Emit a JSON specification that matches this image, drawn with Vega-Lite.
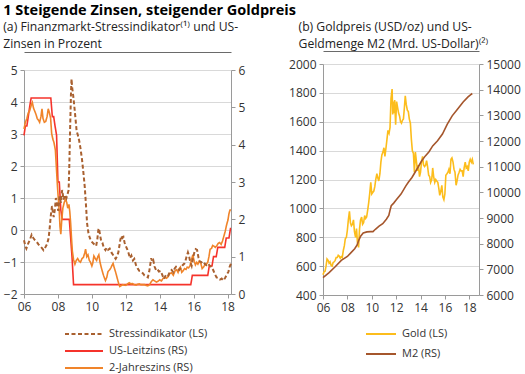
{
  "$schema": "https://vega.github.io/schema/vega-lite/v6.json",
  "background": "white",
  "padding": {"left": 3, "top": 3, "right": 0, "bottom": 0},
  "config": {
    "font": "Open Sans",
    "view": {"stroke": null},
    "axis": {"domainColor": "#9a9a9a", "tickColor": "#9a9a9a", "gridColor": "#d9d9d9", "labelColor": "#333333", "labelFontSize": 12, "tickSize": 4, "labelPadding": 3, "title": null, "labelOverlap": false},
    "legend": {"padding": 0, "labelFontSize": 11, "labelColor": "#333333", "symbolType": "stroke", "symbolStrokeWidth": 2, "clipHeight": 14, "labelOffset": 5}
  },
  "title": {"text": "1 Steigende Zinsen, steigender Goldpreis", "anchor": "start", "fontSize": 14.5, "fontWeight": "bold", "color": "#000000", "offset": 2},
  "resolve": {"scale": {"color": "independent", "strokeDash": "independent"}},
  "datasets": {
    "stress": [
      {"t": 2006.0, "v": -0.32}, {"t": 2006.08, "v": -0.5}, {"t": 2006.14, "v": -0.58}, {"t": 2006.25, "v": -0.42}, {"t": 2006.35, "v": -0.3}, {"t": 2006.45, "v": -0.15}, {"t": 2006.55, "v": -0.25}, {"t": 2006.65, "v": -0.32}, {"t": 2006.75, "v": -0.37}, {"t": 2006.85, "v": -0.45}, {"t": 2006.95, "v": -0.5}, {"t": 2007.05, "v": -0.56}, {"t": 2007.15, "v": -0.63}, {"t": 2007.25, "v": -0.55}, {"t": 2007.35, "v": -0.45}, {"t": 2007.45, "v": -0.26}, {"t": 2007.52, "v": 0.1}, {"t": 2007.58, "v": 0.45}, {"t": 2007.65, "v": 0.75}, {"t": 2007.7, "v": 0.55}, {"t": 2007.75, "v": 0.4}, {"t": 2007.82, "v": 0.65}, {"t": 2007.88, "v": 1.0}, {"t": 2007.95, "v": 0.8}, {"t": 2008.02, "v": 0.6}, {"t": 2008.1, "v": 1.05}, {"t": 2008.17, "v": 0.85}, {"t": 2008.25, "v": 1.25}, {"t": 2008.33, "v": 0.95}, {"t": 2008.42, "v": 1.1}, {"t": 2008.5, "v": 1.0}, {"t": 2008.58, "v": 1.15}, {"t": 2008.63, "v": 1.25}, {"t": 2008.67, "v": 2.0}, {"t": 2008.72, "v": 3.2}, {"t": 2008.77, "v": 4.3}, {"t": 2008.8, "v": 4.72}, {"t": 2008.84, "v": 4.45}, {"t": 2008.9, "v": 4.2}, {"t": 2008.96, "v": 3.9}, {"t": 2009.04, "v": 3.45}, {"t": 2009.1, "v": 3.1}, {"t": 2009.18, "v": 2.95}, {"t": 2009.25, "v": 2.8}, {"t": 2009.33, "v": 2.55}, {"t": 2009.42, "v": 2.2}, {"t": 2009.5, "v": 1.8}, {"t": 2009.58, "v": 1.35}, {"t": 2009.65, "v": 0.8}, {"t": 2009.72, "v": 0.2}, {"t": 2009.8, "v": -0.1}, {"t": 2009.88, "v": -0.25}, {"t": 2009.96, "v": -0.35}, {"t": 2010.05, "v": -0.4}, {"t": 2010.15, "v": -0.45}, {"t": 2010.25, "v": -0.5}, {"t": 2010.32, "v": -0.3}, {"t": 2010.38, "v": 0.0}, {"t": 2010.42, "v": 0.05}, {"t": 2010.48, "v": -0.15}, {"t": 2010.55, "v": -0.35}, {"t": 2010.62, "v": -0.4}, {"t": 2010.7, "v": -0.55}, {"t": 2010.8, "v": -0.63}, {"t": 2010.88, "v": -0.55}, {"t": 2010.96, "v": -0.62}, {"t": 2011.05, "v": -0.58}, {"t": 2011.15, "v": -0.7}, {"t": 2011.25, "v": -0.78}, {"t": 2011.33, "v": -0.85}, {"t": 2011.4, "v": -0.9}, {"t": 2011.48, "v": -0.82}, {"t": 2011.56, "v": -0.7}, {"t": 2011.62, "v": -0.5}, {"t": 2011.68, "v": -0.3}, {"t": 2011.74, "v": -0.18}, {"t": 2011.8, "v": -0.25}, {"t": 2011.86, "v": -0.22}, {"t": 2011.93, "v": -0.4}, {"t": 2012.0, "v": -0.5}, {"t": 2012.08, "v": -0.6}, {"t": 2012.16, "v": -0.72}, {"t": 2012.25, "v": -0.88}, {"t": 2012.33, "v": -0.8}, {"t": 2012.42, "v": -0.95}, {"t": 2012.5, "v": -0.9}, {"t": 2012.6, "v": -1.1}, {"t": 2012.7, "v": -1.2}, {"t": 2012.8, "v": -1.28}, {"t": 2012.9, "v": -1.3}, {"t": 2013.0, "v": -1.35}, {"t": 2013.1, "v": -1.42}, {"t": 2013.2, "v": -1.45}, {"t": 2013.3, "v": -1.48}, {"t": 2013.38, "v": -1.3}, {"t": 2013.45, "v": -1.05}, {"t": 2013.5, "v": -0.88}, {"t": 2013.56, "v": -1.0}, {"t": 2013.62, "v": -0.95}, {"t": 2013.7, "v": -1.15}, {"t": 2013.78, "v": -1.25}, {"t": 2013.86, "v": -1.22}, {"t": 2013.95, "v": -1.3}, {"t": 2014.05, "v": -1.28}, {"t": 2014.15, "v": -1.4}, {"t": 2014.24, "v": -1.53}, {"t": 2014.32, "v": -1.45}, {"t": 2014.4, "v": -1.38}, {"t": 2014.5, "v": -1.42}, {"t": 2014.6, "v": -1.3}, {"t": 2014.7, "v": -1.25}, {"t": 2014.8, "v": -1.32}, {"t": 2014.88, "v": -1.2}, {"t": 2014.96, "v": -1.15}, {"t": 2015.05, "v": -1.2}, {"t": 2015.15, "v": -1.25}, {"t": 2015.25, "v": -1.18}, {"t": 2015.35, "v": -1.1}, {"t": 2015.45, "v": -1.05}, {"t": 2015.52, "v": -0.95}, {"t": 2015.6, "v": -0.8}, {"t": 2015.66, "v": -0.7}, {"t": 2015.72, "v": -0.8}, {"t": 2015.8, "v": -1.0}, {"t": 2015.88, "v": -1.12}, {"t": 2015.95, "v": -0.9}, {"t": 2016.05, "v": -0.68}, {"t": 2016.12, "v": -0.6}, {"t": 2016.2, "v": -0.62}, {"t": 2016.28, "v": -0.85}, {"t": 2016.36, "v": -0.98}, {"t": 2016.45, "v": -1.0}, {"t": 2016.55, "v": -1.08}, {"t": 2016.65, "v": -1.05}, {"t": 2016.75, "v": -1.1}, {"t": 2016.85, "v": -1.05}, {"t": 2016.95, "v": -1.12}, {"t": 2017.05, "v": -1.15}, {"t": 2017.15, "v": -1.25}, {"t": 2017.25, "v": -1.38}, {"t": 2017.35, "v": -1.48}, {"t": 2017.45, "v": -1.5}, {"t": 2017.55, "v": -1.55}, {"t": 2017.65, "v": -1.52}, {"t": 2017.75, "v": -1.58}, {"t": 2017.85, "v": -1.5}, {"t": 2017.95, "v": -1.4}, {"t": 2018.05, "v": -1.3}, {"t": 2018.12, "v": -1.15}, {"t": 2018.2, "v": -1.05}
    ],
    "rates": [
      {"s": "US-Leitzins (RS)", "t": 2006.0, "v": 4.25}, {"s": "US-Leitzins (RS)", "t": 2006.08, "v": 4.5}, {"s": "US-Leitzins (RS)", "t": 2006.17, "v": 4.5}, {"s": "US-Leitzins (RS)", "t": 2006.25, "v": 4.75}, {"s": "US-Leitzins (RS)", "t": 2006.33, "v": 5.0}, {"s": "US-Leitzins (RS)", "t": 2006.42, "v": 5.25}, {"s": "US-Leitzins (RS)", "t": 2007.58, "v": 5.25}, {"s": "US-Leitzins (RS)", "t": 2007.67, "v": 4.75}, {"s": "US-Leitzins (RS)", "t": 2007.75, "v": 4.75}, {"s": "US-Leitzins (RS)", "t": 2007.83, "v": 4.5}, {"s": "US-Leitzins (RS)", "t": 2007.92, "v": 4.25}, {"s": "US-Leitzins (RS)", "t": 2008.0, "v": 3.0}, {"s": "US-Leitzins (RS)", "t": 2008.08, "v": 3.0}, {"s": "US-Leitzins (RS)", "t": 2008.17, "v": 2.25}, {"s": "US-Leitzins (RS)", "t": 2008.25, "v": 2.0}, {"s": "US-Leitzins (RS)", "t": 2008.67, "v": 2.0}, {"s": "US-Leitzins (RS)", "t": 2008.75, "v": 1.5}, {"s": "US-Leitzins (RS)", "t": 2008.83, "v": 1.0}, {"s": "US-Leitzins (RS)", "t": 2008.92, "v": 0.25}, {"s": "US-Leitzins (RS)", "t": 2015.83, "v": 0.25}, {"s": "US-Leitzins (RS)", "t": 2015.92, "v": 0.5}, {"s": "US-Leitzins (RS)", "t": 2016.83, "v": 0.5}, {"s": "US-Leitzins (RS)", "t": 2016.92, "v": 0.75}, {"s": "US-Leitzins (RS)", "t": 2017.08, "v": 0.75}, {"s": "US-Leitzins (RS)", "t": 2017.17, "v": 1.0}, {"s": "US-Leitzins (RS)", "t": 2017.33, "v": 1.0}, {"s": "US-Leitzins (RS)", "t": 2017.42, "v": 1.25}, {"s": "US-Leitzins (RS)", "t": 2017.83, "v": 1.25}, {"s": "US-Leitzins (RS)", "t": 2017.92, "v": 1.5}, {"s": "US-Leitzins (RS)", "t": 2018.08, "v": 1.5}, {"s": "US-Leitzins (RS)", "t": 2018.17, "v": 1.75}, {"s": "US-Leitzins (RS)", "t": 2018.2, "v": 1.75},
      {"s": "2-Jahreszins (RS)", "t": 2006.0, "v": 4.42}, {"s": "2-Jahreszins (RS)", "t": 2006.08, "v": 4.6}, {"s": "2-Jahreszins (RS)", "t": 2006.17, "v": 4.7}, {"s": "2-Jahreszins (RS)", "t": 2006.25, "v": 4.85}, {"s": "2-Jahreszins (RS)", "t": 2006.33, "v": 4.9}, {"s": "2-Jahreszins (RS)", "t": 2006.42, "v": 5.05}, {"s": "2-Jahreszins (RS)", "t": 2006.49, "v": 5.13}, {"s": "2-Jahreszins (RS)", "t": 2006.56, "v": 4.98}, {"s": "2-Jahreszins (RS)", "t": 2006.63, "v": 4.9}, {"s": "2-Jahreszins (RS)", "t": 2006.7, "v": 4.82}, {"s": "2-Jahreszins (RS)", "t": 2006.78, "v": 4.7}, {"s": "2-Jahreszins (RS)", "t": 2006.86, "v": 4.65}, {"s": "2-Jahreszins (RS)", "t": 2006.92, "v": 4.6}, {"s": "2-Jahreszins (RS)", "t": 2007.0, "v": 4.75}, {"s": "2-Jahreszins (RS)", "t": 2007.06, "v": 4.96}, {"s": "2-Jahreszins (RS)", "t": 2007.12, "v": 4.7}, {"s": "2-Jahreszins (RS)", "t": 2007.2, "v": 4.6}, {"s": "2-Jahreszins (RS)", "t": 2007.28, "v": 4.62}, {"s": "2-Jahreszins (RS)", "t": 2007.36, "v": 4.75}, {"s": "2-Jahreszins (RS)", "t": 2007.43, "v": 4.96}, {"s": "2-Jahreszins (RS)", "t": 2007.5, "v": 4.85}, {"s": "2-Jahreszins (RS)", "t": 2007.57, "v": 4.7}, {"s": "2-Jahreszins (RS)", "t": 2007.63, "v": 4.3}, {"s": "2-Jahreszins (RS)", "t": 2007.7, "v": 4.15}, {"s": "2-Jahreszins (RS)", "t": 2007.77, "v": 4.05}, {"s": "2-Jahreszins (RS)", "t": 2007.85, "v": 3.85}, {"s": "2-Jahreszins (RS)", "t": 2007.92, "v": 3.3}, {"s": "2-Jahreszins (RS)", "t": 2007.97, "v": 2.9}, {"s": "2-Jahreszins (RS)", "t": 2008.03, "v": 2.5}, {"s": "2-Jahreszins (RS)", "t": 2008.08, "v": 2.2}, {"s": "2-Jahreszins (RS)", "t": 2008.12, "v": 1.8}, {"s": "2-Jahreszins (RS)", "t": 2008.17, "v": 1.6}, {"s": "2-Jahreszins (RS)", "t": 2008.22, "v": 1.95}, {"s": "2-Jahreszins (RS)", "t": 2008.29, "v": 2.3}, {"s": "2-Jahreszins (RS)", "t": 2008.37, "v": 2.45}, {"s": "2-Jahreszins (RS)", "t": 2008.45, "v": 2.55}, {"s": "2-Jahreszins (RS)", "t": 2008.52, "v": 2.45}, {"s": "2-Jahreszins (RS)", "t": 2008.58, "v": 2.3}, {"s": "2-Jahreszins (RS)", "t": 2008.65, "v": 2.4}, {"s": "2-Jahreszins (RS)", "t": 2008.7, "v": 2.2}, {"s": "2-Jahreszins (RS)", "t": 2008.75, "v": 1.9}, {"s": "2-Jahreszins (RS)", "t": 2008.8, "v": 1.5}, {"s": "2-Jahreszins (RS)", "t": 2008.85, "v": 1.15}, {"s": "2-Jahreszins (RS)", "t": 2008.92, "v": 0.92}, {"s": "2-Jahreszins (RS)", "t": 2009.0, "v": 0.8}, {"s": "2-Jahreszins (RS)", "t": 2009.08, "v": 0.9}, {"s": "2-Jahreszins (RS)", "t": 2009.16, "v": 0.95}, {"s": "2-Jahreszins (RS)", "t": 2009.25, "v": 0.88}, {"s": "2-Jahreszins (RS)", "t": 2009.33, "v": 0.85}, {"s": "2-Jahreszins (RS)", "t": 2009.42, "v": 0.95}, {"s": "2-Jahreszins (RS)", "t": 2009.5, "v": 0.98}, {"s": "2-Jahreszins (RS)", "t": 2009.58, "v": 1.1}, {"s": "2-Jahreszins (RS)", "t": 2009.63, "v": 1.2}, {"s": "2-Jahreszins (RS)", "t": 2009.7, "v": 1.0}, {"s": "2-Jahreszins (RS)", "t": 2009.77, "v": 1.05}, {"s": "2-Jahreszins (RS)", "t": 2009.85, "v": 0.9}, {"s": "2-Jahreszins (RS)", "t": 2009.92, "v": 0.85}, {"s": "2-Jahreszins (RS)", "t": 2010.0, "v": 0.75}, {"s": "2-Jahreszins (RS)", "t": 2010.05, "v": 0.82}, {"s": "2-Jahreszins (RS)", "t": 2010.12, "v": 1.02}, {"s": "2-Jahreszins (RS)", "t": 2010.2, "v": 0.95}, {"s": "2-Jahreszins (RS)", "t": 2010.28, "v": 0.9}, {"s": "2-Jahreszins (RS)", "t": 2010.35, "v": 1.0}, {"s": "2-Jahreszins (RS)", "t": 2010.41, "v": 1.05}, {"s": "2-Jahreszins (RS)", "t": 2010.48, "v": 0.85}, {"s": "2-Jahreszins (RS)", "t": 2010.55, "v": 0.72}, {"s": "2-Jahreszins (RS)", "t": 2010.62, "v": 0.6}, {"s": "2-Jahreszins (RS)", "t": 2010.7, "v": 0.48}, {"s": "2-Jahreszins (RS)", "t": 2010.8, "v": 0.36}, {"s": "2-Jahreszins (RS)", "t": 2010.88, "v": 0.45}, {"s": "2-Jahreszins (RS)", "t": 2010.95, "v": 0.6}, {"s": "2-Jahreszins (RS)", "t": 2011.05, "v": 0.65}, {"s": "2-Jahreszins (RS)", "t": 2011.12, "v": 0.7}, {"s": "2-Jahreszins (RS)", "t": 2011.2, "v": 0.78}, {"s": "2-Jahreszins (RS)", "t": 2011.25, "v": 0.82}, {"s": "2-Jahreszins (RS)", "t": 2011.32, "v": 0.7}, {"s": "2-Jahreszins (RS)", "t": 2011.39, "v": 0.6}, {"s": "2-Jahreszins (RS)", "t": 2011.45, "v": 0.5}, {"s": "2-Jahreszins (RS)", "t": 2011.52, "v": 0.38}, {"s": "2-Jahreszins (RS)", "t": 2011.58, "v": 0.28}, {"s": "2-Jahreszins (RS)", "t": 2011.65, "v": 0.2}, {"s": "2-Jahreszins (RS)", "t": 2011.72, "v": 0.22}, {"s": "2-Jahreszins (RS)", "t": 2011.8, "v": 0.25}, {"s": "2-Jahreszins (RS)", "t": 2011.9, "v": 0.24}, {"s": "2-Jahreszins (RS)", "t": 2012.0, "v": 0.23}, {"s": "2-Jahreszins (RS)", "t": 2012.1, "v": 0.27}, {"s": "2-Jahreszins (RS)", "t": 2012.2, "v": 0.3}, {"s": "2-Jahreszins (RS)", "t": 2012.3, "v": 0.27}, {"s": "2-Jahreszins (RS)", "t": 2012.4, "v": 0.28}, {"s": "2-Jahreszins (RS)", "t": 2012.5, "v": 0.25}, {"s": "2-Jahreszins (RS)", "t": 2012.6, "v": 0.24}, {"s": "2-Jahreszins (RS)", "t": 2012.7, "v": 0.26}, {"s": "2-Jahreszins (RS)", "t": 2012.8, "v": 0.27}, {"s": "2-Jahreszins (RS)", "t": 2012.9, "v": 0.25}, {"s": "2-Jahreszins (RS)", "t": 2013.0, "v": 0.25}, {"s": "2-Jahreszins (RS)", "t": 2013.1, "v": 0.25}, {"s": "2-Jahreszins (RS)", "t": 2013.2, "v": 0.23}, {"s": "2-Jahreszins (RS)", "t": 2013.3, "v": 0.22}, {"s": "2-Jahreszins (RS)", "t": 2013.4, "v": 0.25}, {"s": "2-Jahreszins (RS)", "t": 2013.5, "v": 0.33}, {"s": "2-Jahreszins (RS)", "t": 2013.6, "v": 0.38}, {"s": "2-Jahreszins (RS)", "t": 2013.7, "v": 0.35}, {"s": "2-Jahreszins (RS)", "t": 2013.8, "v": 0.32}, {"s": "2-Jahreszins (RS)", "t": 2013.9, "v": 0.34}, {"s": "2-Jahreszins (RS)", "t": 2014.0, "v": 0.38}, {"s": "2-Jahreszins (RS)", "t": 2014.1, "v": 0.35}, {"s": "2-Jahreszins (RS)", "t": 2014.2, "v": 0.42}, {"s": "2-Jahreszins (RS)", "t": 2014.3, "v": 0.44}, {"s": "2-Jahreszins (RS)", "t": 2014.4, "v": 0.42}, {"s": "2-Jahreszins (RS)", "t": 2014.5, "v": 0.47}, {"s": "2-Jahreszins (RS)", "t": 2014.6, "v": 0.55}, {"s": "2-Jahreszins (RS)", "t": 2014.7, "v": 0.57}, {"s": "2-Jahreszins (RS)", "t": 2014.8, "v": 0.5}, {"s": "2-Jahreszins (RS)", "t": 2014.9, "v": 0.62}, {"s": "2-Jahreszins (RS)", "t": 2015.0, "v": 0.65}, {"s": "2-Jahreszins (RS)", "t": 2015.08, "v": 0.58}, {"s": "2-Jahreszins (RS)", "t": 2015.15, "v": 0.68}, {"s": "2-Jahreszins (RS)", "t": 2015.22, "v": 0.72}, {"s": "2-Jahreszins (RS)", "t": 2015.3, "v": 0.58}, {"s": "2-Jahreszins (RS)", "t": 2015.38, "v": 0.62}, {"s": "2-Jahreszins (RS)", "t": 2015.46, "v": 0.68}, {"s": "2-Jahreszins (RS)", "t": 2015.55, "v": 0.66}, {"s": "2-Jahreszins (RS)", "t": 2015.62, "v": 0.72}, {"s": "2-Jahreszins (RS)", "t": 2015.7, "v": 0.7}, {"s": "2-Jahreszins (RS)", "t": 2015.78, "v": 0.75}, {"s": "2-Jahreszins (RS)", "t": 2015.86, "v": 0.9}, {"s": "2-Jahreszins (RS)", "t": 2015.95, "v": 1.05}, {"s": "2-Jahreszins (RS)", "t": 2016.03, "v": 0.88}, {"s": "2-Jahreszins (RS)", "t": 2016.1, "v": 0.78}, {"s": "2-Jahreszins (RS)", "t": 2016.18, "v": 0.85}, {"s": "2-Jahreszins (RS)", "t": 2016.25, "v": 0.8}, {"s": "2-Jahreszins (RS)", "t": 2016.33, "v": 0.88}, {"s": "2-Jahreszins (RS)", "t": 2016.42, "v": 0.82}, {"s": "2-Jahreszins (RS)", "t": 2016.5, "v": 0.68}, {"s": "2-Jahreszins (RS)", "t": 2016.58, "v": 0.72}, {"s": "2-Jahreszins (RS)", "t": 2016.66, "v": 0.78}, {"s": "2-Jahreszins (RS)", "t": 2016.75, "v": 0.8}, {"s": "2-Jahreszins (RS)", "t": 2016.83, "v": 0.85}, {"s": "2-Jahreszins (RS)", "t": 2016.9, "v": 1.0}, {"s": "2-Jahreszins (RS)", "t": 2016.97, "v": 1.2}, {"s": "2-Jahreszins (RS)", "t": 2017.05, "v": 1.22}, {"s": "2-Jahreszins (RS)", "t": 2017.12, "v": 1.3}, {"s": "2-Jahreszins (RS)", "t": 2017.2, "v": 1.28}, {"s": "2-Jahreszins (RS)", "t": 2017.28, "v": 1.25}, {"s": "2-Jahreszins (RS)", "t": 2017.37, "v": 1.3}, {"s": "2-Jahreszins (RS)", "t": 2017.45, "v": 1.36}, {"s": "2-Jahreszins (RS)", "t": 2017.53, "v": 1.38}, {"s": "2-Jahreszins (RS)", "t": 2017.62, "v": 1.33}, {"s": "2-Jahreszins (RS)", "t": 2017.7, "v": 1.42}, {"s": "2-Jahreszins (RS)", "t": 2017.78, "v": 1.55}, {"s": "2-Jahreszins (RS)", "t": 2017.86, "v": 1.68}, {"s": "2-Jahreszins (RS)", "t": 2017.94, "v": 1.85}, {"s": "2-Jahreszins (RS)", "t": 2018.02, "v": 1.98}, {"s": "2-Jahreszins (RS)", "t": 2018.08, "v": 2.15}, {"s": "2-Jahreszins (RS)", "t": 2018.14, "v": 2.25}, {"s": "2-Jahreszins (RS)", "t": 2018.2, "v": 2.25}
    ],
    "gold": [
      {"t": 2006.0, "v": 540}, {"t": 2006.08, "v": 560}, {"t": 2006.17, "v": 565}, {"t": 2006.25, "v": 600}, {"t": 2006.33, "v": 650}, {"t": 2006.42, "v": 640}, {"t": 2006.5, "v": 620}, {"t": 2006.58, "v": 630}, {"t": 2006.67, "v": 605}, {"t": 2006.75, "v": 600}, {"t": 2006.83, "v": 625}, {"t": 2006.92, "v": 630}, {"t": 2007.0, "v": 640}, {"t": 2007.08, "v": 660}, {"t": 2007.17, "v": 660}, {"t": 2007.25, "v": 675}, {"t": 2007.33, "v": 670}, {"t": 2007.42, "v": 655}, {"t": 2007.5, "v": 665}, {"t": 2007.58, "v": 660}, {"t": 2007.67, "v": 710}, {"t": 2007.75, "v": 740}, {"t": 2007.83, "v": 790}, {"t": 2007.92, "v": 800}, {"t": 2008.0, "v": 850}, {"t": 2008.08, "v": 920}, {"t": 2008.17, "v": 980}, {"t": 2008.25, "v": 900}, {"t": 2008.33, "v": 880}, {"t": 2008.42, "v": 890}, {"t": 2008.5, "v": 920}, {"t": 2008.58, "v": 840}, {"t": 2008.67, "v": 800}, {"t": 2008.75, "v": 860}, {"t": 2008.83, "v": 760}, {"t": 2008.92, "v": 730}, {"t": 2009.0, "v": 860}, {"t": 2009.08, "v": 920}, {"t": 2009.17, "v": 940}, {"t": 2009.25, "v": 890}, {"t": 2009.33, "v": 900}, {"t": 2009.42, "v": 950}, {"t": 2009.5, "v": 930}, {"t": 2009.58, "v": 940}, {"t": 2009.67, "v": 990}, {"t": 2009.75, "v": 1040}, {"t": 2009.83, "v": 1100}, {"t": 2009.92, "v": 1180}, {"t": 2010.0, "v": 1100}, {"t": 2010.08, "v": 1110}, {"t": 2010.17, "v": 1120}, {"t": 2010.25, "v": 1150}, {"t": 2010.33, "v": 1200}, {"t": 2010.42, "v": 1240}, {"t": 2010.5, "v": 1210}, {"t": 2010.58, "v": 1190}, {"t": 2010.67, "v": 1240}, {"t": 2010.75, "v": 1320}, {"t": 2010.83, "v": 1370}, {"t": 2010.92, "v": 1390}, {"t": 2011.0, "v": 1420}, {"t": 2011.08, "v": 1360}, {"t": 2011.17, "v": 1420}, {"t": 2011.25, "v": 1480}, {"t": 2011.33, "v": 1540}, {"t": 2011.42, "v": 1520}, {"t": 2011.5, "v": 1560}, {"t": 2011.58, "v": 1760}, {"t": 2011.67, "v": 1826}, {"t": 2011.72, "v": 1650}, {"t": 2011.78, "v": 1740}, {"t": 2011.83, "v": 1660}, {"t": 2011.88, "v": 1750}, {"t": 2011.96, "v": 1580}, {"t": 2012.04, "v": 1740}, {"t": 2012.12, "v": 1700}, {"t": 2012.2, "v": 1660}, {"t": 2012.28, "v": 1640}, {"t": 2012.36, "v": 1600}, {"t": 2012.44, "v": 1590}, {"t": 2012.52, "v": 1610}, {"t": 2012.6, "v": 1620}, {"t": 2012.68, "v": 1700}, {"t": 2012.75, "v": 1780}, {"t": 2012.83, "v": 1720}, {"t": 2012.92, "v": 1680}, {"t": 2013.0, "v": 1670}, {"t": 2013.08, "v": 1620}, {"t": 2013.17, "v": 1590}, {"t": 2013.25, "v": 1480}, {"t": 2013.33, "v": 1400}, {"t": 2013.42, "v": 1380}, {"t": 2013.5, "v": 1250}, {"t": 2013.58, "v": 1390}, {"t": 2013.67, "v": 1320}, {"t": 2013.75, "v": 1260}, {"t": 2013.83, "v": 1300}, {"t": 2013.92, "v": 1220}, {"t": 2014.0, "v": 1250}, {"t": 2014.08, "v": 1320}, {"t": 2014.17, "v": 1360}, {"t": 2014.25, "v": 1300}, {"t": 2014.33, "v": 1290}, {"t": 2014.42, "v": 1300}, {"t": 2014.5, "v": 1330}, {"t": 2014.58, "v": 1290}, {"t": 2014.67, "v": 1230}, {"t": 2014.75, "v": 1220}, {"t": 2014.83, "v": 1180}, {"t": 2014.92, "v": 1200}, {"t": 2015.0, "v": 1280}, {"t": 2015.08, "v": 1220}, {"t": 2015.17, "v": 1180}, {"t": 2015.25, "v": 1200}, {"t": 2015.33, "v": 1190}, {"t": 2015.42, "v": 1180}, {"t": 2015.5, "v": 1140}, {"t": 2015.58, "v": 1090}, {"t": 2015.67, "v": 1120}, {"t": 2015.75, "v": 1160}, {"t": 2015.83, "v": 1080}, {"t": 2015.92, "v": 1060}, {"t": 2016.0, "v": 1100}, {"t": 2016.08, "v": 1230}, {"t": 2016.17, "v": 1240}, {"t": 2016.25, "v": 1250}, {"t": 2016.33, "v": 1270}, {"t": 2016.42, "v": 1240}, {"t": 2016.5, "v": 1340}, {"t": 2016.58, "v": 1350}, {"t": 2016.67, "v": 1320}, {"t": 2016.75, "v": 1270}, {"t": 2016.83, "v": 1250}, {"t": 2016.92, "v": 1160}, {"t": 2017.0, "v": 1190}, {"t": 2017.08, "v": 1230}, {"t": 2017.17, "v": 1250}, {"t": 2017.25, "v": 1270}, {"t": 2017.33, "v": 1260}, {"t": 2017.42, "v": 1260}, {"t": 2017.5, "v": 1220}, {"t": 2017.58, "v": 1280}, {"t": 2017.67, "v": 1320}, {"t": 2017.75, "v": 1280}, {"t": 2017.83, "v": 1290}, {"t": 2017.92, "v": 1260}, {"t": 2018.0, "v": 1320}, {"t": 2018.08, "v": 1340}, {"t": 2018.17, "v": 1320}, {"t": 2018.25, "v": 1340}, {"t": 2018.33, "v": 1305}
    ],
    "m2": [
      {"t": 2006.0, "v": 6680}, {"t": 2006.5, "v": 6870}, {"t": 2007.0, "v": 7100}, {"t": 2007.5, "v": 7350}, {"t": 2008.0, "v": 7500}, {"t": 2008.3, "v": 7650}, {"t": 2008.6, "v": 7800}, {"t": 2008.8, "v": 7950}, {"t": 2008.95, "v": 8150}, {"t": 2009.1, "v": 8300}, {"t": 2009.3, "v": 8420}, {"t": 2009.6, "v": 8460}, {"t": 2009.9, "v": 8470}, {"t": 2010.1, "v": 8470}, {"t": 2010.3, "v": 8560}, {"t": 2010.6, "v": 8680}, {"t": 2010.9, "v": 8780}, {"t": 2011.2, "v": 8950}, {"t": 2011.4, "v": 9100}, {"t": 2011.5, "v": 9300}, {"t": 2011.6, "v": 9480}, {"t": 2011.8, "v": 9580}, {"t": 2012.0, "v": 9700}, {"t": 2012.4, "v": 9930}, {"t": 2012.8, "v": 10250}, {"t": 2013.0, "v": 10390}, {"t": 2013.3, "v": 10580}, {"t": 2013.7, "v": 10900}, {"t": 2014.1, "v": 11230}, {"t": 2014.4, "v": 11420}, {"t": 2014.7, "v": 11580}, {"t": 2015.0, "v": 11810}, {"t": 2015.4, "v": 12010}, {"t": 2015.8, "v": 12270}, {"t": 2016.2, "v": 12660}, {"t": 2016.6, "v": 12980}, {"t": 2017.0, "v": 13220}, {"t": 2017.5, "v": 13520}, {"t": 2017.9, "v": 13720}, {"t": 2018.1, "v": 13800}, {"t": 2018.25, "v": 13850}
    ]
  },
  "spacing": 43,
  "hconcat": [
    {
      "title": {"text": ["(a) Finanzmarkt-Stressindikator⁽¹⁾ und US-", "Zinsen in Prozent"], "anchor": "start", "frame": "bounds", "fontSize": 12.2, "fontWeight": "normal", "lineHeight": 17, "offset": 2, "color": "#222222"},
      "width": 207,
      "height": 230,
      "layer": [
        {
          "data": {"name": "rates"},
          "mark": {"type": "line", "strokeWidth": 1.6},
          "encoding": {
            "x": {"field": "t", "type": "quantitative", "scale": {"domain": [2006, 2018.2], "nice": false, "zero": false}, "axis": {"values": [2006, 2008, 2010, 2012, 2014, 2016, 2018], "labelExpr": "format(datum.value - 2000, '02d')", "grid": false, "labelOverlap": false, "labelFlush": false}},
            "y": {"field": "v", "type": "quantitative", "scale": {"domain": [0, 6], "nice": false, "range": [230, 6]}, "axis": {"orient": "right", "values": [0, 1, 2, 3, 4, 5, 6], "grid": false}},
            "color": {"field": "s", "type": "nominal", "scale": {"domain": ["Stressindikator (LS)", "US-Leitzins (RS)", "2-Jahreszins (RS)"], "range": ["#a9602f", "#f5332b", "#f0842a"]}, "legend": {"title": null, "orient": "none", "legendX": 40, "legendY": 263, "direction": "vertical", "symbolSize": 1444, "rowPadding": 3}},
            "strokeDash": {"field": "s", "type": "nominal", "scale": {"domain": ["Stressindikator (LS)", "US-Leitzins (RS)", "2-Jahreszins (RS)"], "range": [[4, 2.5], [1, 0], [1, 0]]}, "legend": {"title": null, "orient": "none", "legendX": 40, "legendY": 263, "direction": "vertical", "symbolSize": 1444, "rowPadding": 3}}
          }
        },
        {
          "data": {"name": "stress"},
          "transform": [{"calculate": "'Stressindikator (LS)'", "as": "s"}],
          "mark": {"type": "line", "strokeWidth": 2},
          "encoding": {
            "x": {"field": "t", "type": "quantitative", "axis": {"orient": "top", "labels": false, "ticks": false, "grid": false, "domainColor": "#6a6a6a", "offset": 12}},
            "y": {"field": "v", "type": "quantitative", "scale": {"domain": [-2, 5], "nice": false, "range": [230, 6]}, "axis": {"orient": "left", "values": [-2, -1, 0, 1, 2, 3, 4, 5], "grid": true}},
            "color": {"field": "s", "type": "nominal"},
            "strokeDash": {"field": "s", "type": "nominal"}
          }
        }
      ],
      "resolve": {"scale": {"y": "independent"}, "axis": {"x": "independent"}}
    },
    {
      "title": {"text": ["(b) Goldpreis (USD/oz) und US-", "Geldmenge M2 (Mrd. US-Dollar)⁽²⁾"], "anchor": "start", "frame": "bounds", "dx": 10, "fontSize": 12.2, "fontWeight": "normal", "lineHeight": 17, "offset": 1, "color": "#222222"},
      "width": 156,
      "height": 231,
      "layer": [
        {
          "data": {"name": "gold"},
          "transform": [{"calculate": "'Gold (LS)'", "as": "s"}],
          "mark": {"type": "line", "strokeWidth": 1.6},
          "encoding": {
            "x": {"field": "t", "type": "quantitative", "scale": {"domain": [2006, 2018.8], "nice": false, "zero": false}, "axis": {"values": [2006, 2008, 2010, 2012, 2014, 2016, 2018], "labelExpr": "format(datum.value - 2000, '02d')", "grid": false, "labelOverlap": false, "labelFlush": false}},
            "y": {"field": "v", "type": "quantitative", "scale": {"domain": [400, 2000], "nice": false}, "axis": {"orient": "left", "values": [400, 600, 800, 1000, 1200, 1400, 1600, 1800, 2000], "format": "d", "grid": true}},
            "color": {"field": "s", "type": "nominal", "scale": {"domain": ["Gold (LS)", "M2 (RS)"], "range": ["#fcbd1c", "#a5562c"]}, "legend": {"title": null, "orient": "none", "legendX": 42, "legendY": 263, "direction": "vertical", "symbolSize": 900, "rowPadding": 6}}
          }
        },
        {
          "data": {"name": "m2"},
          "transform": [{"calculate": "'M2 (RS)'", "as": "s"}],
          "mark": {"type": "line", "strokeWidth": 1.6},
          "encoding": {
            "x": {"field": "t", "type": "quantitative", "axis": {"orient": "top", "labels": false, "ticks": false, "grid": false, "domainColor": "#6a6a6a", "offset": 13}},
            "y": {"field": "v", "type": "quantitative", "scale": {"domain": [6000, 15000], "nice": false}, "axis": {"orient": "right", "values": [6000, 7000, 8000, 9000, 10000, 11000, 12000, 13000, 14000, 15000], "format": "d", "grid": false}},
            "color": {"field": "s", "type": "nominal"}
          }
        }
      ],
      "resolve": {"scale": {"y": "independent"}, "axis": {"x": "independent"}}
    }
  ]
}
